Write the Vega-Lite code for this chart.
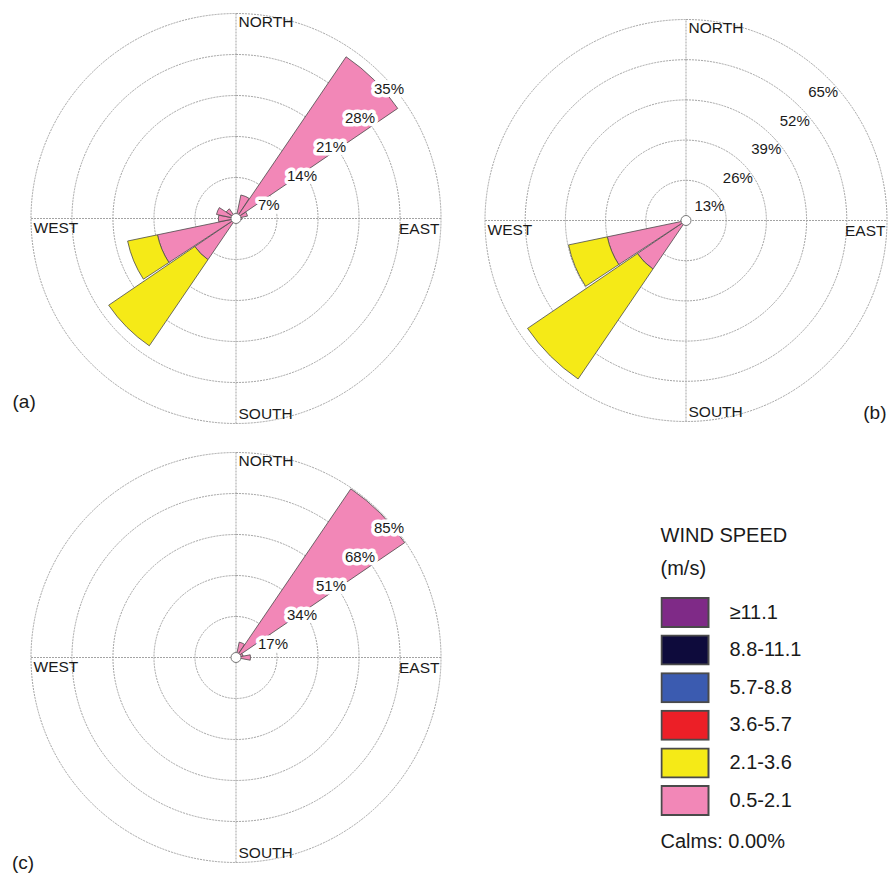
{
  "$schema": "https://vega.github.io/schema/vega-lite/v6.json",
  "padding": {"left": 12, "top": 11.5, "right": 0, "bottom": 0},
  "background": "white",
  "title": {"text": "Calms: 0.00%", "orient": "bottom", "anchor": "start", "frame": "group", "offset": 0, "dx": 629.5, "dy": -41.5, "fontSize": 20, "fontWeight": "normal", "color": "#1a1a1a"},
  "config": {
    "view": {"stroke": null},
    "font": "Liberation Sans",
    "text": {"color": "#1a1a1a"}
  },
  "datasets": {
    "compass": [
      {"name": "NORTH", "bearing": 0},
      {"name": "EAST", "bearing": 90},
      {"name": "SOUTH", "bearing": 180},
      {"name": "WEST", "bearing": 270}
    ]
  },
  "columns": 2,
  "spacing": {"row": 25, "column": 44},
  "bounds": "flush",
  "resolve": {"scale": {"radius": "independent", "theta": "independent"}},
  "concat": [
    {
      "width": 410,
      "height": 410,
      "title": {"text": "(a)", "orient": "bottom", "anchor": "start", "offset": 0, "dx": -16.5, "dy": -33, "fontSize": 19, "fontWeight": "normal", "color": "#1a1a1a"},
      "layer": [
        {
          "data": {"values": [{"ring": 7}, {"ring": 14}, {"ring": 21}, {"ring": 28}, {"ring": 35}]},
          "mark": {"type": "arc", "filled": false, "theta": 0, "theta2": 6.2832, "stroke": "#a3a3a3", "strokeWidth": 1, "strokeDash": [2, 1]},
          "encoding": {"radius": {"field": "ring", "type": "quantitative", "stack": null, "scale": {"type": "linear", "domain": [0, 35], "range": [0, 205]}}}
        },
        {
          "data": {"values": [{}]},
          "mark": {"type": "rule", "stroke": "#a3a3a3", "strokeWidth": 1, "strokeDash": [2, 1]},
          "encoding": {
            "x": {"datum": -35, "type": "quantitative", "scale": {"domain": [-35, 35], "range": [0, 410], "nice": false}, "axis": null},
            "x2": {"datum": 35},
            "y": {"datum": 0, "type": "quantitative", "scale": {"domain": [-35, 35], "range": [410, 0], "nice": false}, "axis": null}
          }
        },
        {
          "data": {"values": [{}]},
          "mark": {"type": "rule", "stroke": "#a3a3a3", "strokeWidth": 1, "strokeDash": [2, 1]},
          "encoding": {
            "y": {"datum": -35, "type": "quantitative", "scale": {"domain": [-35, 35], "range": [410, 0], "nice": false}, "axis": null},
            "y2": {"datum": 35},
            "x": {"datum": 0, "type": "quantitative", "scale": {"domain": [-35, 35], "range": [0, 410], "nice": false}, "axis": null}
          }
        },
        {
          "data": {"values": [
            {"dir": 0, "speed": "0.5-2.1", "pct": 0.8},
            {"dir": 22.5, "speed": "0.5-2.1", "pct": 4.1},
            {"dir": 45, "speed": "0.5-2.1", "pct": 33.4},
            {"dir": 67.5, "speed": "0.5-2.1", "pct": 2.0},
            {"dir": 90, "speed": "0.5-2.1", "pct": 1.0},
            {"dir": 225, "speed": "0.5-2.1", "pct": 8.5},
            {"dir": 225, "speed": "2.1-3.6", "pct": 17.8},
            {"dir": 247.5, "speed": "0.5-2.1", "pct": 13.7},
            {"dir": 247.5, "speed": "2.1-3.6", "pct": 5.2},
            {"dir": 270, "speed": "0.5-2.1", "pct": 3.0},
            {"dir": 292.5, "speed": "0.5-2.1", "pct": 3.4},
            {"dir": 315, "speed": "0.5-2.1", "pct": 2.0},
            {"dir": 337.5, "speed": "0.5-2.1", "pct": 0.8}
          ]},
          "transform": [{"stack": "pct", "groupby": ["dir"], "sort": [{"field": "speed", "order": "ascending"}], "as": ["r0", "r1"]}],
          "mark": {"type": "arc", "thetaOffset": -0.1876, "theta2Offset": 0.1876, "stroke": "#4a4a4a", "strokeWidth": 0.8},
          "encoding": {
            "theta": {"field": "dir", "type": "quantitative", "stack": null, "scale": {"domain": [0, 360], "range": [0, 6.2832]}},
            "theta2": {"field": "dir"},
            "radius": {"field": "r1", "type": "quantitative", "stack": null, "scale": {"type": "linear", "domain": [0, 35], "range": [0, 205]}},
            "radius2": {"field": "r0"},
            "color": {
              "field": "speed",
              "type": "nominal",
              "scale": {
                "domain": ["≥11.1", "8.8-11.1", "5.7-8.8", "3.6-5.7", "2.1-3.6", "0.5-2.1"],
                "range": ["#7f2a87", "#0e0b3c", "#3b5bb0", "#ec1f27", "#f5ea17", "#f287b7"]
              },
              "legend": {
                "title": ["WIND SPEED", "(m/s)"],
                "orient": "none",
                "legendX": 629.5,
                "legendY": 512.5,
                "titleFontSize": 20,
                "titleFontWeight": "normal",
                "titleLineHeight": 33,
                "titlePadding": 18,
                "titleColor": "#1a1a1a",
                "labelFontSize": 20,
                "labelColor": "#1a1a1a",
                "labelOffset": 20,
                "labelLimit": 300,
                "symbolType": "M-1,-0.617H1V0.617H-1Z",
                "symbolSize": 2209,
                "symbolStrokeColor": "#8c8c8c",
                "symbolStrokeWidth": 2,
                "symbolOpacity": 1,
                "clipHeight": 31,
                "rowPadding": 6.6
              }
            }
          }
        },
        {
          "data": {"values": [{}]},
          "mark": {"type": "arc", "radius": 5, "theta": 0, "theta2": 6.2832, "fill": "white", "stroke": "#777777", "strokeWidth": 1},
          "encoding": {}
        },
        {
          "data": {"values": [{"ring": 7, "label": "7%"}, {"ring": 14, "label": "14%"}, {"ring": 21, "label": "21%"}, {"ring": 28, "label": "28%"}, {"ring": 35, "label": "35%"}]},
          "mark": {"type": "text", "theta": 0.7854, "align": "left", "baseline": "middle", "dx": -7, "dy": 15, "fontSize": 15, "stroke": "white", "strokeWidth": 7, "strokeJoin": "round", "fill": "white"},
          "encoding": {
            "radius": {"field": "ring", "type": "quantitative", "stack": null, "scale": {"type": "linear", "domain": [0, 35], "range": [0, 205]}},
            "text": {"field": "label"}
          }
        },
        {
          "data": {"values": [{"ring": 7, "label": "7%"}, {"ring": 14, "label": "14%"}, {"ring": 21, "label": "21%"}, {"ring": 28, "label": "28%"}, {"ring": 35, "label": "35%"}]},
          "mark": {"type": "text", "theta": 0.7854, "align": "left", "baseline": "middle", "dx": -7, "dy": 15, "fontSize": 15},
          "encoding": {
            "radius": {"field": "ring", "type": "quantitative", "stack": null, "scale": {"type": "linear", "domain": [0, 35], "range": [0, 205]}},
            "text": {"field": "label"}
          }
        },
        {
          "data": {"name": "compass"},
          "mark": {
            "type": "text", "radius": 205, "fontSize": 15.5,
            "align": {"expr": "datum.bearing == 90 ? 'right' : 'left'"},
            "baseline": {"expr": "datum.bearing == 180 ? 'alphabetic' : 'top'"},
            "dx": {"expr": "datum.bearing == 90 ? -1.5 : 2.5"},
            "dy": {"expr": "datum.bearing == 180 ? -5 : (datum.bearing == 0 ? 1 : 3)"}
          },
          "encoding": {
            "theta": {"field": "bearing", "type": "quantitative", "stack": null, "scale": {"domain": [0, 360], "range": [0, 6.2832]}},
            "text": {"field": "name"}
          }
        }
      ]
    },
    {
      "width": 402,
      "height": 414,
      "title": {"text": "(b)", "orient": "bottom", "anchor": "end", "offset": 0, "dx": -2.5, "dy": -24, "fontSize": 19, "fontWeight": "normal", "color": "#1a1a1a"},
      "layer": [
        {
          "data": {"values": [{"ring": 13}, {"ring": 26}, {"ring": 39}, {"ring": 52}, {"ring": 65}]},
          "mark": {"type": "arc", "filled": false, "theta": 0, "theta2": 6.2832, "stroke": "#a3a3a3", "strokeWidth": 1, "strokeDash": [2, 1]},
          "encoding": {"radius": {"field": "ring", "type": "quantitative", "stack": null, "scale": {"type": "linear", "domain": [0, 65], "range": [0, 201]}}}
        },
        {
          "data": {"values": [{}]},
          "mark": {"type": "rule", "stroke": "#a3a3a3", "strokeWidth": 1, "strokeDash": [2, 1]},
          "encoding": {
            "x": {"datum": -65, "type": "quantitative", "scale": {"domain": [-65, 65], "range": [0, 402], "nice": false}, "axis": null},
            "x2": {"datum": 65},
            "y": {"datum": 0, "type": "quantitative", "scale": {"domain": [-65, 65], "range": [408, 6], "nice": false}, "axis": null}
          }
        },
        {
          "data": {"values": [{}]},
          "mark": {"type": "rule", "stroke": "#a3a3a3", "strokeWidth": 1, "strokeDash": [2, 1]},
          "encoding": {
            "y": {"datum": -65, "type": "quantitative", "scale": {"domain": [-65, 65], "range": [408, 6], "nice": false}, "axis": null},
            "y2": {"datum": 65},
            "x": {"datum": 0, "type": "quantitative", "scale": {"domain": [-65, 65], "range": [0, 402], "nice": false}, "axis": null}
          }
        },
        {
          "data": {"values": [
            {"dir": 225, "speed": "0.5-2.1", "pct": 19.0},
            {"dir": 225, "speed": "2.1-3.6", "pct": 43.0},
            {"dir": 247.5, "speed": "0.5-2.1", "pct": 26.0},
            {"dir": 247.5, "speed": "2.1-3.6", "pct": 12.8}
          ]},
          "transform": [{"stack": "pct", "groupby": ["dir"], "sort": [{"field": "speed", "order": "ascending"}], "as": ["r0", "r1"]}],
          "mark": {"type": "arc", "thetaOffset": -0.1876, "theta2Offset": 0.1876, "stroke": "#4a4a4a", "strokeWidth": 0.8},
          "encoding": {
            "theta": {"field": "dir", "type": "quantitative", "stack": null, "scale": {"domain": [0, 360], "range": [0, 6.2832]}},
            "theta2": {"field": "dir"},
            "radius": {"field": "r1", "type": "quantitative", "stack": null, "scale": {"type": "linear", "domain": [0, 65], "range": [0, 201]}},
            "radius2": {"field": "r0"},
            "color": {
              "field": "speed",
              "type": "nominal",
              "scale": {
                "domain": ["≥11.1", "8.8-11.1", "5.7-8.8", "3.6-5.7", "2.1-3.6", "0.5-2.1"],
                "range": ["#7f2a87", "#0e0b3c", "#3b5bb0", "#ec1f27", "#f5ea17", "#f287b7"]
              }
            }
          }
        },
        {
          "data": {"values": [{}]},
          "mark": {"type": "arc", "radius": 5, "theta": 0, "theta2": 6.2832, "fill": "white", "stroke": "#777777", "strokeWidth": 1},
          "encoding": {}
        },
        {
          "data": {"values": [{"ring": 13, "label": "13%"}, {"ring": 26, "label": "26%"}, {"ring": 39, "label": "39%"}, {"ring": 52, "label": "52%"}, {"ring": 65, "label": "65%"}]},
          "mark": {"type": "text", "theta": 0.7854, "align": "left", "baseline": "middle", "dx": -20, "dy": 14, "fontSize": 15},
          "encoding": {
            "radius": {"field": "ring", "type": "quantitative", "stack": null, "scale": {"type": "linear", "domain": [0, 65], "range": [0, 201]}},
            "text": {"field": "label"}
          }
        },
        {
          "data": {"name": "compass"},
          "mark": {
            "type": "text", "radius": 201, "fontSize": 15.5,
            "align": {"expr": "datum.bearing == 90 ? 'right' : 'left'"},
            "baseline": {"expr": "datum.bearing == 180 ? 'alphabetic' : 'top'"},
            "dx": {"expr": "datum.bearing == 90 ? -1.5 : 2.5"},
            "dy": {"expr": "datum.bearing == 180 ? -5 : (datum.bearing == 0 ? 1 : 3)"}
          },
          "encoding": {
            "theta": {"field": "bearing", "type": "quantitative", "stack": null, "scale": {"domain": [0, 360], "range": [0, 6.2832]}},
            "text": {"field": "name"}
          }
        }
      ]
    },
    {
      "width": 410,
      "height": 410,
      "title": {"text": "(c)", "orient": "bottom", "anchor": "start", "offset": 0, "dx": -17, "dy": -10.5, "fontSize": 19, "fontWeight": "normal", "color": "#1a1a1a"},
      "layer": [
        {
          "data": {"values": [{"ring": 17}, {"ring": 34}, {"ring": 51}, {"ring": 68}, {"ring": 85}]},
          "mark": {"type": "arc", "filled": false, "theta": 0, "theta2": 6.2832, "stroke": "#a3a3a3", "strokeWidth": 1, "strokeDash": [2, 1]},
          "encoding": {"radius": {"field": "ring", "type": "quantitative", "stack": null, "scale": {"type": "linear", "domain": [0, 85], "range": [0, 205]}}}
        },
        {
          "data": {"values": [{}]},
          "mark": {"type": "rule", "stroke": "#a3a3a3", "strokeWidth": 1, "strokeDash": [2, 1]},
          "encoding": {
            "x": {"datum": -85, "type": "quantitative", "scale": {"domain": [-85, 85], "range": [0, 410], "nice": false}, "axis": null},
            "x2": {"datum": 85},
            "y": {"datum": 0, "type": "quantitative", "scale": {"domain": [-85, 85], "range": [410, 0], "nice": false}, "axis": null}
          }
        },
        {
          "data": {"values": [{}]},
          "mark": {"type": "rule", "stroke": "#a3a3a3", "strokeWidth": 1, "strokeDash": [2, 1]},
          "encoding": {
            "y": {"datum": -85, "type": "quantitative", "scale": {"domain": [-85, 85], "range": [410, 0], "nice": false}, "axis": null},
            "y2": {"datum": 85},
            "x": {"datum": 0, "type": "quantitative", "scale": {"domain": [-85, 85], "range": [0, 410], "nice": false}, "axis": null}
          }
        },
        {
          "data": {"values": [
            {"dir": 0, "speed": "0.5-2.1", "pct": 1.0},
            {"dir": 22.5, "speed": "0.5-2.1", "pct": 6.5},
            {"dir": 45, "speed": "0.5-2.1", "pct": 84.6},
            {"dir": 67.5, "speed": "0.5-2.1", "pct": 3.0},
            {"dir": 90, "speed": "0.5-2.1", "pct": 6.0}
          ]},
          "transform": [{"stack": "pct", "groupby": ["dir"], "sort": [{"field": "speed", "order": "ascending"}], "as": ["r0", "r1"]}],
          "mark": {"type": "arc", "thetaOffset": -0.1876, "theta2Offset": 0.1876, "stroke": "#4a4a4a", "strokeWidth": 0.8},
          "encoding": {
            "theta": {"field": "dir", "type": "quantitative", "stack": null, "scale": {"domain": [0, 360], "range": [0, 6.2832]}},
            "theta2": {"field": "dir"},
            "radius": {"field": "r1", "type": "quantitative", "stack": null, "scale": {"type": "linear", "domain": [0, 85], "range": [0, 205]}},
            "radius2": {"field": "r0"},
            "color": {
              "field": "speed",
              "type": "nominal",
              "scale": {
                "domain": ["≥11.1", "8.8-11.1", "5.7-8.8", "3.6-5.7", "2.1-3.6", "0.5-2.1"],
                "range": ["#7f2a87", "#0e0b3c", "#3b5bb0", "#ec1f27", "#f5ea17", "#f287b7"]
              }
            }
          }
        },
        {
          "data": {"values": [{}]},
          "mark": {"type": "arc", "radius": 5, "theta": 0, "theta2": 6.2832, "fill": "white", "stroke": "#777777", "strokeWidth": 1},
          "encoding": {}
        },
        {
          "data": {"values": [{"ring": 17, "label": "17%"}, {"ring": 34, "label": "34%"}, {"ring": 51, "label": "51%"}, {"ring": 68, "label": "68%"}, {"ring": 85, "label": "85%"}]},
          "mark": {"type": "text", "theta": 0.7854, "align": "left", "baseline": "middle", "dx": -7, "dy": 15, "fontSize": 15, "stroke": "white", "strokeWidth": 7, "strokeJoin": "round", "fill": "white"},
          "encoding": {
            "radius": {"field": "ring", "type": "quantitative", "stack": null, "scale": {"type": "linear", "domain": [0, 85], "range": [0, 205]}},
            "text": {"field": "label"}
          }
        },
        {
          "data": {"values": [{"ring": 17, "label": "17%"}, {"ring": 34, "label": "34%"}, {"ring": 51, "label": "51%"}, {"ring": 68, "label": "68%"}, {"ring": 85, "label": "85%"}]},
          "mark": {"type": "text", "theta": 0.7854, "align": "left", "baseline": "middle", "dx": -7, "dy": 15, "fontSize": 15},
          "encoding": {
            "radius": {"field": "ring", "type": "quantitative", "stack": null, "scale": {"type": "linear", "domain": [0, 85], "range": [0, 205]}},
            "text": {"field": "label"}
          }
        },
        {
          "data": {"name": "compass"},
          "mark": {
            "type": "text", "radius": 205, "fontSize": 15.5,
            "align": {"expr": "datum.bearing == 90 ? 'right' : 'left'"},
            "baseline": {"expr": "datum.bearing == 180 ? 'alphabetic' : 'top'"},
            "dx": {"expr": "datum.bearing == 90 ? -1.5 : 2.5"},
            "dy": {"expr": "datum.bearing == 180 ? -5 : (datum.bearing == 0 ? 1 : 3)"}
          },
          "encoding": {
            "theta": {"field": "bearing", "type": "quantitative", "stack": null, "scale": {"domain": [0, 360], "range": [0, 6.2832]}},
            "text": {"field": "name"}
          }
        }
      ]
    }
  ]
}
